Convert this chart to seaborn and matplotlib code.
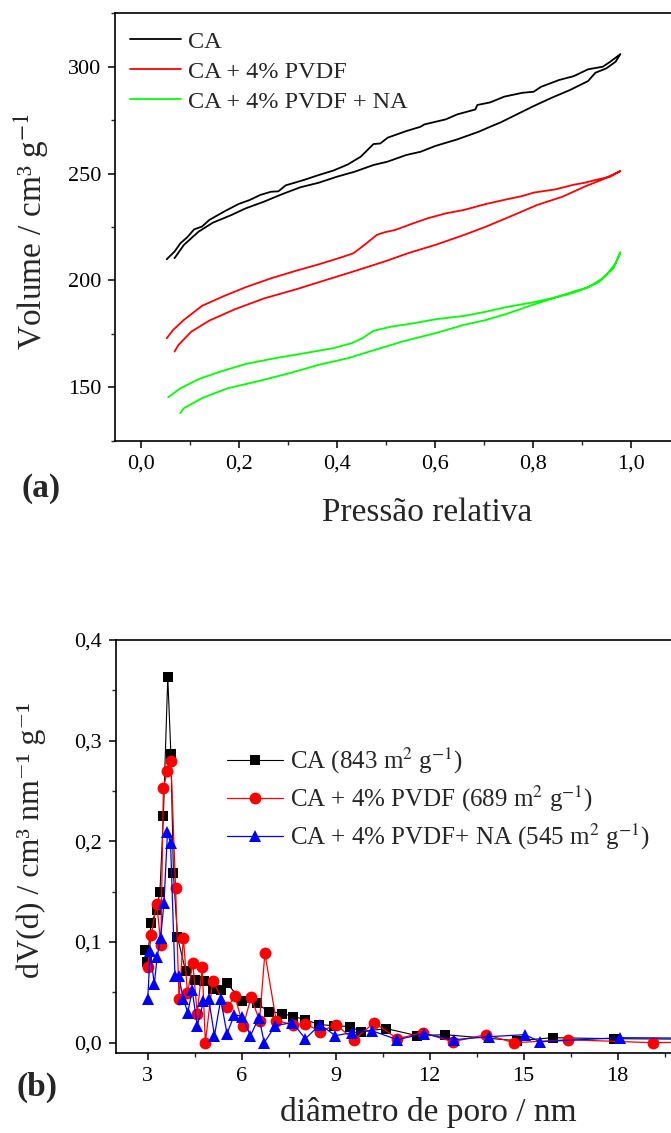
import matplotlib
matplotlib.use("Agg")
import matplotlib.pyplot as plt
from matplotlib.ticker import FixedLocator, FixedFormatter
import seaborn as sns
import pandas as pd

sns.set_theme(style="ticks")
plt.rcParams["font.family"] = ["Liberation Serif", "DejaVu Serif"]
plt.rcParams["mathtext.fontset"] = "stix"

# ---------------- (a) N2 isotherms ----------------
iso_labels = ["CA", "CA + 4% PVDF", "CA + 4% PVDF + NA"]
iso_colors = ["#000000", "#ff0000", "#00ff00"]

ca_ads_p = [0.068, 0.087, 0.117, 0.146, 0.184, 0.213, 0.251, 0.288, 0.325, 0.362, 0.399, 0.436, 0.474, 0.503, 0.541,
            0.570, 0.600, 0.645, 0.689, 0.712, 0.734, 0.771, 0.801, 0.838, 0.875, 0.912, 0.927, 0.949, 0.968, 0.978]
ca_ads_v = [210.4, 216.6, 222.8, 227.0, 230.6, 233.7, 236.9, 240.4, 243.6, 245.7, 248.5, 250.9, 254.0, 255.6, 258.7,
            260.2, 262.9, 266.0, 269.6, 271.9, 274.0, 278.2, 281.6, 285.5, 289.1, 293.3, 297.2, 299.2, 302.3, 305.9]
ca_des_p = [0.052, 0.068, 0.080, 0.094, 0.108, 0.124, 0.139, 0.169, 0.199, 0.221, 0.243, 0.265, 0.280, 0.295, 0.332,
            0.362, 0.392, 0.422, 0.448, 0.474, 0.488, 0.503, 0.541, 0.570, 0.578, 0.622, 0.645, 0.682, 0.686, 0.712,
            0.741, 0.778, 0.801, 0.816, 0.853, 0.883, 0.912, 0.942, 0.957, 0.978]
ca_des_v = [209.9, 213.5, 217.4, 220.2, 223.9, 225.2, 228.3, 232.2, 235.8, 237.6, 240.0, 241.5, 241.7, 244.5, 247.0,
            249.3, 251.4, 254.3, 257.9, 263.8, 264.1, 266.8, 269.9, 271.9, 273.0, 275.4, 277.7, 280.0, 282.1, 283.3,
            286.0, 287.8, 288.3, 290.6, 293.8, 295.6, 298.8, 300.0, 302.3, 305.9]

pv_ads_p = [0.068, 0.076, 0.102, 0.139, 0.191, 0.251, 0.317, 0.377, 0.436, 0.496, 0.548, 0.600, 0.659, 0.704, 0.756,
            0.808, 0.860, 0.905, 0.942, 0.978]
pv_ads_v = [166.7, 169.8, 176.0, 181.2, 186.5, 191.6, 195.9, 200.2, 204.4, 208.8, 213.0, 216.6, 221.3, 225.2, 230.2,
            235.3, 239.2, 243.9, 247.3, 251.2]
pv_des_p = [0.052, 0.065, 0.087, 0.124, 0.169, 0.213, 0.265, 0.317, 0.362, 0.407, 0.433, 0.451, 0.481, 0.496, 0.518,
            0.555, 0.585, 0.622, 0.659, 0.704, 0.749, 0.778, 0.801, 0.845, 0.883, 0.905, 0.927, 0.957, 0.978]
pv_des_v = [172.9, 176.8, 181.5, 188.1, 192.7, 196.8, 201.0, 204.6, 207.5, 210.7, 212.7, 215.8, 221.3, 222.5, 223.6,
            226.7, 229.1, 231.4, 233.0, 235.8, 238.1, 239.5, 241.1, 242.6, 244.8, 245.7, 247.0, 248.5, 251.2]

na_ads_p = [0.080, 0.087, 0.124, 0.176, 0.236, 0.303, 0.362, 0.422, 0.481, 0.533, 0.600, 0.659, 0.704, 0.749, 0.793,
            0.845, 0.883, 0.912, 0.942, 0.964, 0.978]
na_ads_v = [137.9, 140.2, 144.9, 149.5, 152.7, 156.6, 160.5, 163.6, 167.8, 171.4, 175.3, 179.2, 181.5, 184.6, 188.1,
            192.0, 194.8, 196.8, 201.0, 205.7, 213.2]
na_des_p = [0.055, 0.080, 0.117, 0.161, 0.213, 0.273, 0.332, 0.392, 0.429, 0.451, 0.474, 0.511, 0.555, 0.600, 0.659,
            0.704, 0.749, 0.801, 0.845, 0.883, 0.912, 0.935, 0.953, 0.968, 0.978]
na_des_v = [145.3, 149.5, 153.8, 157.3, 160.9, 163.6, 165.9, 168.3, 170.6, 172.9, 176.4, 178.4, 179.9, 181.8, 183.4,
            185.4, 187.7, 189.8, 192.0, 194.3, 196.8, 199.4, 203.6, 208.0, 213.2]

iso_xticks = [0.0, 0.2, 0.4, 0.6, 0.8, 1.0]
iso_xticklabels = ["0,0", "0,2", "0,4", "0,6", "0,8", "1,0"]
iso_xminor = [0.1, 0.3, 0.5, 0.7, 0.9, 1.1]
iso_yticks = [150, 200, 250, 300]
iso_yminor = [125, 175, 225, 275, 325]

# ---------------- (b) pore size distribution ----------------
psd_labels = [r"CA (843 m$^{2}$ g$^{-1}$)", r"CA + 4% PVDF (689 m$^{2}$ g$^{-1}$)",
              r"CA + 4% PVDF+ NA (545 m$^{2}$ g$^{-1}$)"]
psd_colors = ["#000000", "#ff0000", "#0000ff"]
psd_markers = ["s", "o", "^"]

ca_d = [2.90, 2.98, 3.11, 3.29, 3.39, 3.50, 3.64, 3.74, 3.82, 3.95, 4.21, 4.50, 4.80, 5.09, 5.33, 5.53, 6.02, 6.49,
        6.86, 7.30, 7.65, 8.03, 8.47, 8.93, 9.45, 9.80, 10.62, 11.60, 12.48, 14.80, 15.92, 17.89, 23.0]
ca_dv = [0.092, 0.080, 0.119, 0.132, 0.150, 0.225, 0.363, 0.287, 0.169, 0.105, 0.071, 0.062, 0.061, 0.053, 0.052,
         0.059, 0.041, 0.039, 0.031, 0.029, 0.026, 0.023, 0.018, 0.017, 0.016, 0.011, 0.014, 0.007, 0.008, 0.002,
         0.005, 0.004, 0.003]

pv_d = [3.00, 3.11, 3.29, 3.42, 3.50, 3.63, 3.74, 3.89, 4.00, 4.14, 4.27, 4.44, 4.58, 4.74, 4.84, 5.07, 5.54, 5.78,
        6.05, 6.30, 6.57, 6.74, 7.10, 7.63, 8.03, 8.50, 9.00, 9.59, 10.23, 10.97, 11.78, 12.73, 13.81, 14.69, 16.43,
        19.13, 23.0]
pv_dv = [0.075, 0.107, 0.138, 0.097, 0.253, 0.270, 0.280, 0.154, 0.043, 0.104, 0.049, 0.079, 0.029, 0.075, 0.000,
         0.061, 0.035, 0.046, 0.017, 0.045, 0.022, 0.089, 0.022, 0.018, 0.019, 0.011, 0.018, 0.003, 0.020, 0.004,
         0.010, 0.001, 0.008, 0.000, 0.003, 0.000, 0.002]

na_d = [3.00, 3.08, 3.21, 3.30, 3.41, 3.52, 3.63, 3.73, 3.87, 3.99, 4.14, 4.28, 4.42, 4.58, 4.78, 4.95, 5.13, 5.33,
        5.53, 5.77, 6.02, 6.28, 6.55, 6.72, 7.07, 7.62, 8.03, 8.50, 8.99, 9.51, 10.15, 10.97, 11.81, 12.76, 13.90,
        15.04, 15.52, 18.08, 23.0]
na_dv = [0.043, 0.091, 0.058, 0.085, 0.104, 0.139, 0.209, 0.198, 0.066, 0.066, 0.043, 0.030, 0.052, 0.017, 0.041,
         0.043, 0.007, 0.043, 0.009, 0.028, 0.026, 0.007, 0.025, 0.000, 0.017, 0.020, 0.004, 0.018, 0.007, 0.010,
         0.012, 0.003, 0.009, 0.003, 0.006, 0.008, 0.001, 0.005, 0.004]

psd_xticks = [3, 6, 9, 12, 15, 18]
psd_xminor = [4.5, 7.5, 10.5, 13.5, 16.5, 19.5]
psd_yticks = [0.0, 0.1, 0.2, 0.3, 0.4]
psd_yticklabels = ["0,0", "0,1", "0,2", "0,3", "0,4"]
psd_yminor = [0.05, 0.15, 0.25, 0.35]

# ---------------- figure ----------------
W, H = 671, 1133
fig = plt.figure(figsize=(W / 100, H / 100), dpi=100)
fig.patch.set_facecolor("white")


def frac_box(left, right, top, bottom):
    return [left / W, 1 - bottom / H, (right - left) / W, (bottom - top) / H]


ax1 = fig.add_axes(frac_box(115, 739, 13.3, 440.7))
ax2 = fig.add_axes(frac_box(116, 738, 640, 1053.3))

iso_sets = [(ca_ads_p, ca_ads_v, ca_des_p, ca_des_v),
            (pv_ads_p, pv_ads_v, pv_des_p, pv_des_v),
            (na_ads_p, na_ads_v, na_des_p, na_des_v)]
for (ap, av, dp, dv), lab, col in zip(iso_sets, iso_labels, iso_colors):
    df = pd.DataFrame({"p": list(ap) + list(dp[::-1]), "v": list(av) + list(dv[::-1])})
    sns.lineplot(data=df, x="p", y="v", sort=False, estimator=None, color=col, lw=1.3,
                 label=lab, ax=ax1)

ax1.set_xlim(-0.0535, 1.22)
ax1.set_ylim(125, 325)
ax1.xaxis.set_major_locator(FixedLocator(iso_xticks))
ax1.xaxis.set_major_formatter(FixedFormatter(iso_xticklabels))
ax1.xaxis.set_minor_locator(FixedLocator(iso_xminor))
ax1.yaxis.set_major_locator(FixedLocator(iso_yticks))
ax1.yaxis.set_minor_locator(FixedLocator(iso_yminor))
ax1.set_xlabel("")
ax1.set_ylabel("")

psd_sets = [(ca_d, ca_dv), (pv_d, pv_dv), (na_d, na_dv)]
msizes = [7, 8.5, 9]
lwidths = [0.8, 0.9, 0.9]
for (d, v), lab, col, mk, ms, lw in zip(psd_sets, psd_labels, psd_colors, psd_markers, msizes, lwidths):
    sns.lineplot(x=d, y=v, sort=False, estimator=None, color=col, lw=lw, marker=mk,
                 markersize=ms, markeredgewidth=0, markerfacecolor=col, label=lab, ax=ax2)

ax2.set_xlim(1.988, 21.84)
ax2.set_ylim(-0.0105, 0.4)
ax2.xaxis.set_major_locator(FixedLocator(psd_xticks))
ax2.xaxis.set_minor_locator(FixedLocator(psd_xminor))
ax2.yaxis.set_major_locator(FixedLocator(psd_yticks))
ax2.yaxis.set_major_formatter(FixedFormatter(psd_yticklabels))
ax2.yaxis.set_minor_locator(FixedLocator(psd_yminor))
ax2.set_xlabel("")
ax2.set_ylabel("")

for ax in (ax1, ax2):
    for s in ax.spines.values():
        s.set_linewidth(1.2)
        s.set_color("black")
        s.set_visible(True)
    ax.tick_params(which="major", direction="out", length=5, width=1.1, labelsize=16, pad=5,
                   colors="black", top=False, right=False)
    ax.tick_params(which="minor", direction="out", length=3, width=1.0, top=False, right=False)
    ax.set_facecolor("white")
    ax.grid(False)

leg1 = ax1.legend(loc="upper left", bbox_to_anchor=(129.5 / W, 1 - 30.5 / H), bbox_transform=fig.transFigure,
                  frameon=False, fontsize=17.5, handlelength=2.1, handletextpad=0.3, labelspacing=0.33,
                  borderpad=0, borderaxespad=0)
for line in leg1.get_lines():
    line.set_linewidth(1.3)

leg2 = ax2.legend(loc="upper left", bbox_to_anchor=(226.7 / W, 1 - 746 / H), bbox_transform=fig.transFigure,
                  frameon=False, fontsize=18, handlelength=2.25, handletextpad=0.3, labelspacing=0.3,
                  borderpad=0, borderaxespad=0)

fig.text(31 / W, 1 - 231.7 / H, r"Volume / cm³ g$^{-1}$", rotation=90, ha="center", va="center", fontsize=24)
fig.text(427 / W, 1 - 513 / H, "Pressão relativa", ha="center", va="center", fontsize=24)
fig.text(41 / W, 1 - 489 / H, "(a)", ha="center", va="center", fontsize=24, fontweight="bold")

fig.text(31 / W, 1 - 840 / H, "dV(d) / cm³ nm⁻¹ g⁻¹", rotation=90, ha="center", va="center",
         fontsize=23)
fig.text(428 / W, 1 - 1113 / H, "diâmetro de poro / nm", ha="center", va="center", fontsize=24)
fig.text(37 / W, 1 - 1087 / H, "(b)", ha="center", va="center", fontsize=24, fontweight="bold")

fig.savefig("out.png", dpi=100, facecolor="white")
